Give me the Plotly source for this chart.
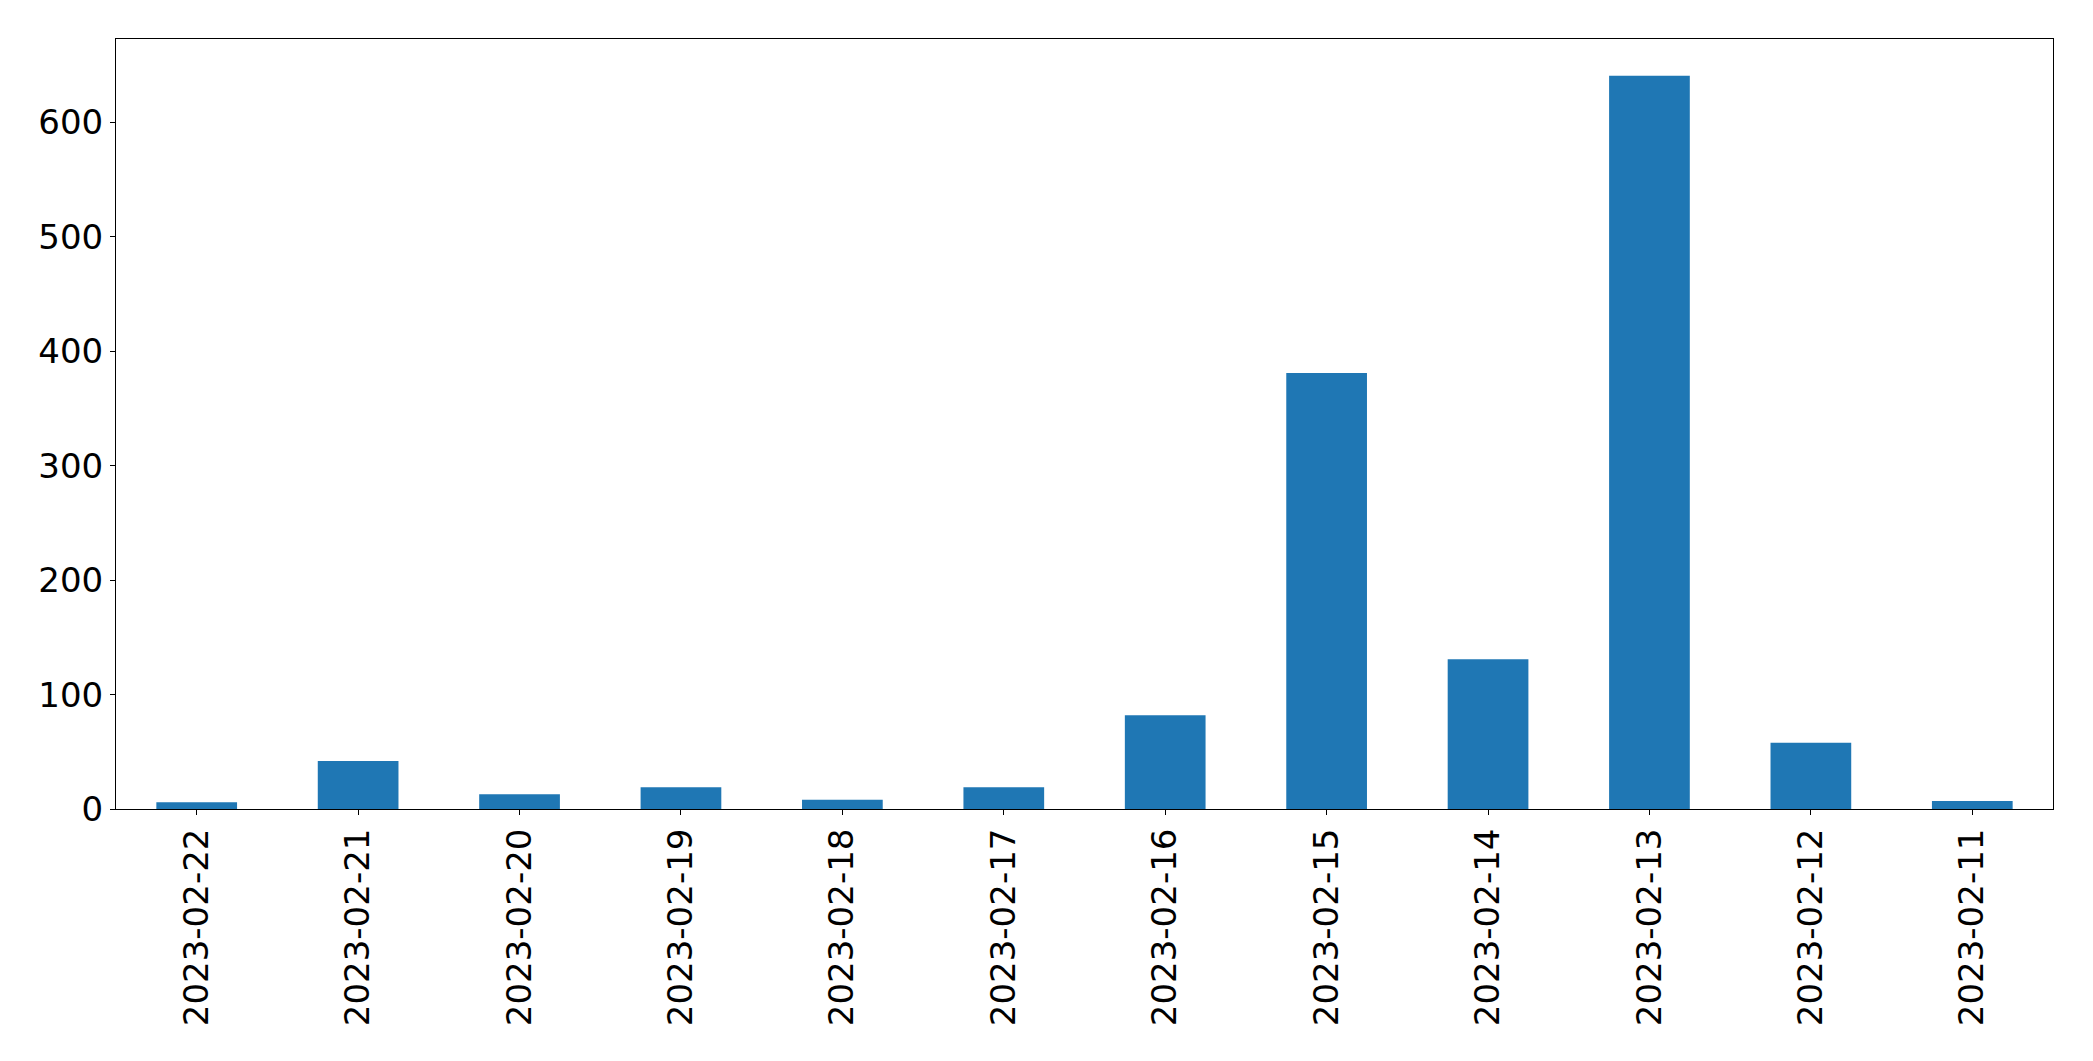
import plotly.graph_objects as go

dates = ["2023-02-22", "2023-02-21", "2023-02-20", "2023-02-19", "2023-02-18", "2023-02-17",
         "2023-02-16", "2023-02-15", "2023-02-14", "2023-02-13", "2023-02-12", "2023-02-11"]
counts = [6, 42, 13, 19, 8, 19, 82, 381, 131, 641, 58, 7]
y_ticks = [0, 100, 200, 300, 400, 500, 600]

fig = go.Figure(go.Bar(x=dates, y=counts, marker=dict(color="#1f77b4", line=dict(width=0)), width=0.5))

fig.update_layout(
    width=2077, height=1045,
    margin=dict(l=108, r=32, t=31, b=244),
    paper_bgcolor="white", plot_bgcolor="white",
    font=dict(family="DejaVu Sans", size=34, color="black"),
    showlegend=False,
)
fig.update_xaxes(
    type="category", range=[-0.5, len(dates) - 0.5],
    tickangle=-90, ticks="outside", ticklen=5, tickwidth=1, tickcolor="black",
    showline=True, linecolor="black", linewidth=1, mirror=True, showgrid=False,
    tickfont=dict(size=34),
)
fig.update_yaxes(
    range=[0, max(counts) * 1.05], tickvals=y_ticks,
    ticks="outside", ticklen=5, tickwidth=1, tickcolor="black",
    showline=True, linecolor="black", linewidth=1, mirror=True, showgrid=False, zeroline=False,
    tickfont=dict(size=34),
)
fig.write_html("out.html")
